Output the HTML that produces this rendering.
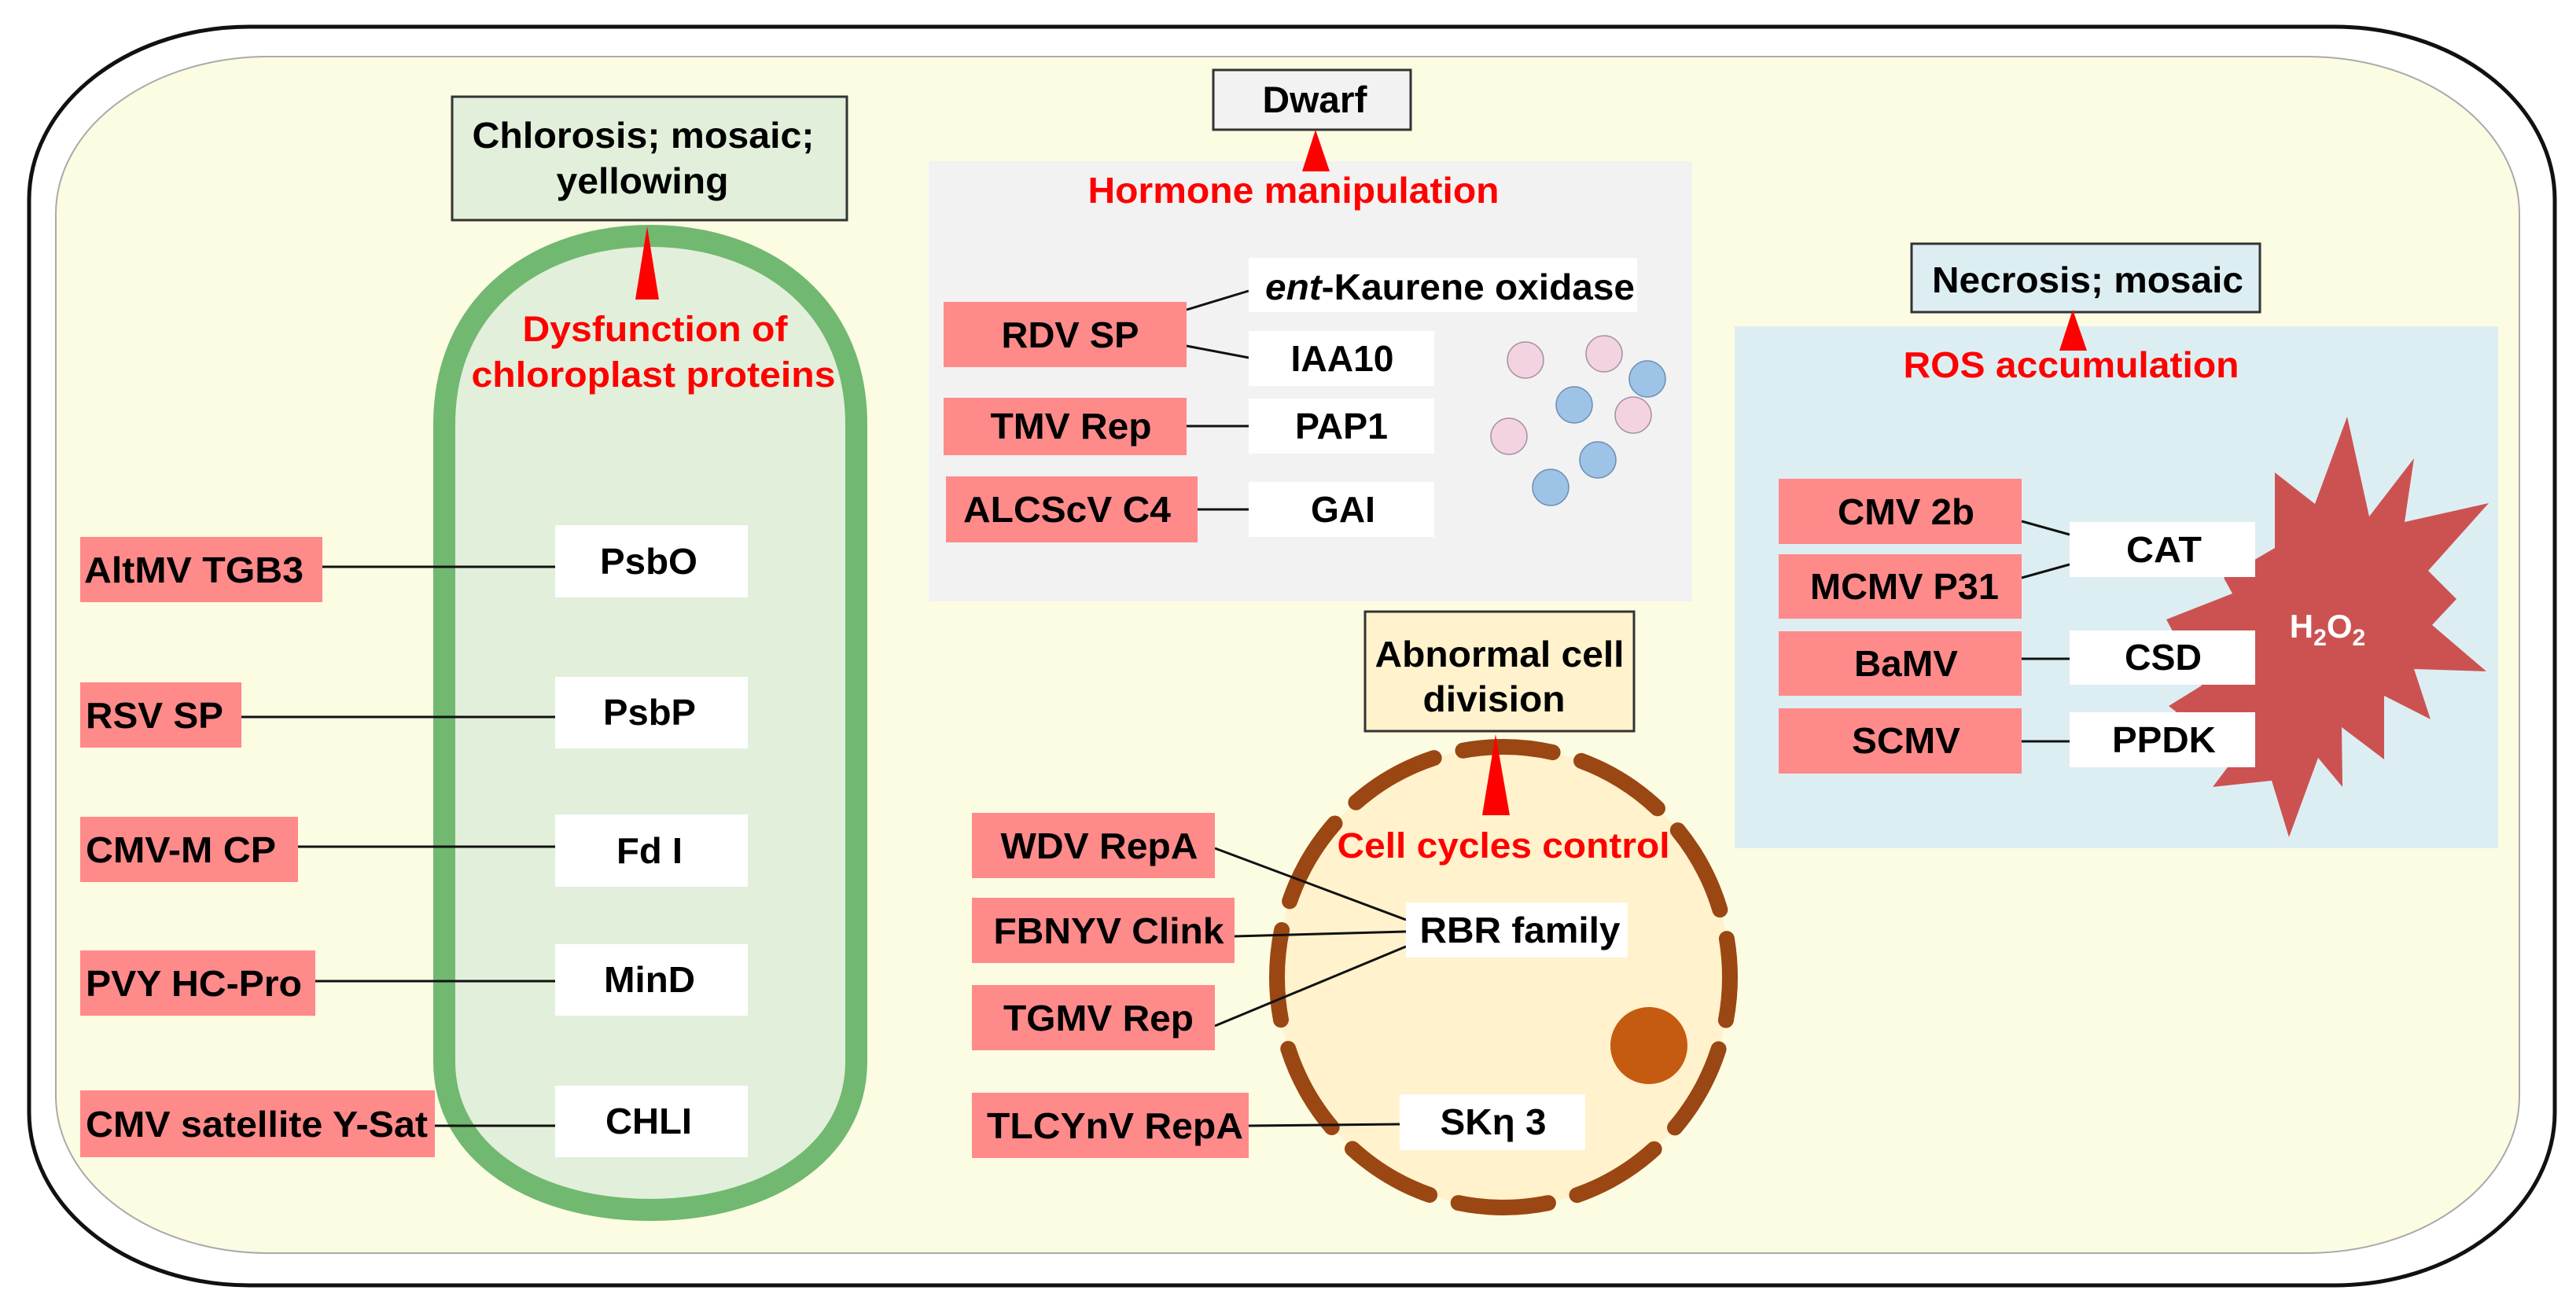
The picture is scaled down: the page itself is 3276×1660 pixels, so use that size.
<!DOCTYPE html>
<html><head><meta charset="utf-8"><style>
html,body{margin:0;padding:0;background:#fff;}
svg{display:block;}
text{font-family:"Liberation Sans",Arial,sans-serif;font-weight:bold;}
</style></head><body>
<svg width="3276" height="1660" viewBox="0 0 3276 1660" xmlns="http://www.w3.org/2000/svg">
<rect x="37" y="34" width="3212" height="1601" rx="280" ry="220" fill="#fff" stroke="#111" stroke-width="5"/>
<rect x="71" y="72" width="3133" height="1522" rx="270" ry="200" fill="#fcfce3" stroke="#aaa" stroke-width="2"/>

<!-- Chloroplast -->
<path d="M565,540 C565,380 690,300 827,300 C964,300 1089,380 1089,540 L1089,1350 C1089,1470 970,1539 827,1539 C684,1539 565,1470 565,1350 Z" fill="#e2efda" stroke="#71b870" stroke-width="28"/>
<rect x="575" y="123" width="502" height="157" fill="#e2efda" stroke="#333" stroke-width="3"/>
<text x="818" y="188" font-size="46" text-anchor="middle" textLength="435" lengthAdjust="spacingAndGlyphs">Chlorosis; mosaic;</text>
<text x="817" y="246" font-size="46" text-anchor="middle" textLength="219" lengthAdjust="spacingAndGlyphs">yellowing</text>
<polygon points="823,288 808,381 838,381" fill="#ff0000"/>
<text x="833" y="434" font-size="45" fill="#ff0000" text-anchor="middle" textLength="337" lengthAdjust="spacingAndGlyphs">Dysfunction of</text>
<text x="831" y="492" font-size="45" fill="#ff0000" text-anchor="middle" textLength="463" lengthAdjust="spacingAndGlyphs">chloroplast proteins</text>

<g stroke="#111" stroke-width="3">
<line x1="410" y1="721" x2="706" y2="721"/>
<line x1="307" y1="912" x2="706" y2="912"/>
<line x1="379" y1="1077" x2="706" y2="1077"/>
<line x1="401" y1="1248" x2="706" y2="1248"/>
<line x1="553" y1="1432" x2="706" y2="1432"/>
</g>
<g fill="#ff8a8a">
<rect x="102" y="683" width="308" height="83"/>
<rect x="102" y="868" width="205" height="83"/>
<rect x="102" y="1039" width="277" height="83"/>
<rect x="102" y="1209" width="299" height="83"/>
<rect x="102" y="1387" width="451" height="85"/>
</g>
<g fill="#fff">
<rect x="706" y="668" width="245" height="92"/>
<rect x="706" y="861" width="245" height="91"/>
<rect x="706" y="1036" width="245" height="92"/>
<rect x="706" y="1201" width="245" height="91"/>
<rect x="706" y="1381" width="245" height="91"/>
</g>
<g font-size="46">
<text x="107" y="741" textLength="279" lengthAdjust="spacingAndGlyphs">AltMV TGB3</text>
<text x="109" y="926" textLength="175" lengthAdjust="spacingAndGlyphs">RSV SP</text>
<text x="109" y="1097" textLength="242" lengthAdjust="spacingAndGlyphs">CMV-M CP</text>
<text x="109" y="1267" textLength="275" lengthAdjust="spacingAndGlyphs">PVY HC-Pro</text>
<text x="109" y="1446" textLength="435" lengthAdjust="spacingAndGlyphs">CMV satellite Y-Sat</text>
<text x="825" y="730" text-anchor="middle" textLength="124" lengthAdjust="spacingAndGlyphs">PsbO</text>
<text x="826" y="922" text-anchor="middle" textLength="118" lengthAdjust="spacingAndGlyphs">PsbP</text>
<text x="826" y="1098" text-anchor="middle" textLength="84" lengthAdjust="spacingAndGlyphs">Fd I</text>
<text x="826" y="1262" text-anchor="middle" textLength="116" lengthAdjust="spacingAndGlyphs">MinD</text>
<text x="825" y="1442" text-anchor="middle" textLength="110" lengthAdjust="spacingAndGlyphs">CHLI</text>
</g>

<!-- Hormone panel -->
<rect x="1181" y="205" width="971" height="560" fill="#f2f2f2"/>
<rect x="1543" y="89" width="251" height="76" fill="#f2f2f2" stroke="#333" stroke-width="3"/>
<text x="1672" y="143" font-size="47" text-anchor="middle" textLength="133" lengthAdjust="spacingAndGlyphs">Dwarf</text>
<polygon points="1673,165 1656,218 1691,218" fill="#ff0000"/>
<text x="1645" y="258" font-size="46" fill="#ff0000" text-anchor="middle" textLength="523" lengthAdjust="spacingAndGlyphs">Hormone manipulation</text>
<g stroke="#111" stroke-width="3">
<line x1="1509" y1="394" x2="1588" y2="370"/>
<line x1="1509" y1="440" x2="1588" y2="455"/>
<line x1="1509" y1="542" x2="1588" y2="542"/>
<line x1="1523" y1="648" x2="1588" y2="648"/>
</g>
<g fill="#ff8a8a">
<rect x="1200" y="384" width="309" height="83"/>
<rect x="1200" y="506" width="309" height="73"/>
<rect x="1203" y="606" width="320" height="84"/>
</g>
<g fill="#fff">
<rect x="1588" y="328" width="494" height="69"/>
<rect x="1588" y="421" width="236" height="70"/>
<rect x="1588" y="507" width="236" height="70"/>
<rect x="1588" y="613" width="236" height="70"/>
</g>
<g font-size="46">
<text x="1609" y="381" textLength="470" lengthAdjust="spacingAndGlyphs"><tspan font-style="italic">ent</tspan>-Kaurene oxidase</text>
<text x="1361" y="442" text-anchor="middle" textLength="175" lengthAdjust="spacingAndGlyphs">RDV SP</text>
<text x="1707" y="472" text-anchor="middle" textLength="131" lengthAdjust="spacingAndGlyphs">IAA10</text>
<text x="1362" y="558" text-anchor="middle" textLength="205" lengthAdjust="spacingAndGlyphs">TMV Rep</text>
<text x="1706" y="558" text-anchor="middle" textLength="118" lengthAdjust="spacingAndGlyphs">PAP1</text>
<text x="1357" y="664" text-anchor="middle" textLength="264" lengthAdjust="spacingAndGlyphs">ALCScV C4</text>
<text x="1708" y="664" text-anchor="middle" textLength="82" lengthAdjust="spacingAndGlyphs">GAI</text>
</g>
<g stroke-width="1.5">
<circle cx="1940" cy="458" r="23" fill="#f3d3e2" stroke="#a8909f"/>
<circle cx="2040" cy="450" r="23" fill="#f3d3e2" stroke="#a8909f"/>
<circle cx="2095" cy="482" r="23" fill="#9dc3e6" stroke="#6d8fb5"/>
<circle cx="2002" cy="515" r="23" fill="#9dc3e6" stroke="#6d8fb5"/>
<circle cx="2077" cy="528" r="23" fill="#f3d3e2" stroke="#a8909f"/>
<circle cx="1919" cy="555" r="23" fill="#f3d3e2" stroke="#a8909f"/>
<circle cx="2032" cy="585" r="23" fill="#9dc3e6" stroke="#6d8fb5"/>
<circle cx="1972" cy="620" r="23" fill="#9dc3e6" stroke="#6d8fb5"/>
</g>

<!-- ROS panel -->
<rect x="2206" y="415" width="971" height="664" fill="#ddeef3"/>
<rect x="2431" y="310" width="443" height="87" fill="#ddeef3" stroke="#333" stroke-width="3"/>
<text x="2655" y="372" font-size="46" text-anchor="middle" textLength="396" lengthAdjust="spacingAndGlyphs">Necrosis; mosaic</text>
<polygon points="2636,394 2619,446 2654,446" fill="#ff0000"/>
<text x="2634" y="480" font-size="46" fill="#ff0000" text-anchor="middle" textLength="427" lengthAdjust="spacingAndGlyphs">ROS accumulation</text>
<polygon fill="#cc5252" points="2985,530 3013,657 3070,583 3058,664 3165,640 3088,726 3124,762 3093,795 3162,854 3070,851 3091,915 3032,885 3032,966 2978,925 2979,1001 2948,964 2911,1065 2889,993 2814,1001 2842,964 2758,898 2800,872 2755,788 2839,755 2828,735 2893,697 2893,601 2944,641"/>
<text x="2960" y="811" font-size="42" fill="#fff" text-anchor="middle">H<tspan font-size="30" dy="10">2</tspan><tspan dy="-10">O</tspan><tspan font-size="30" dy="10">2</tspan></text>
<g stroke="#111" stroke-width="3">
<line x1="2571" y1="663" x2="2632" y2="680"/>
<line x1="2571" y1="735" x2="2632" y2="718"/>
<line x1="2571" y1="838" x2="2632" y2="838"/>
<line x1="2571" y1="943" x2="2632" y2="943"/>
</g>
<g fill="#ff8a8a">
<rect x="2262" y="609" width="309" height="83"/>
<rect x="2262" y="705" width="309" height="82"/>
<rect x="2262" y="803" width="309" height="82"/>
<rect x="2262" y="901" width="309" height="83"/>
</g>
<g fill="#fff">
<rect x="2632" y="664" width="236" height="70"/>
<rect x="2632" y="802" width="236" height="69"/>
<rect x="2632" y="906" width="236" height="70"/>
</g>
<g font-size="46">
<text x="2424" y="667" text-anchor="middle" textLength="174" lengthAdjust="spacingAndGlyphs">CMV 2b</text>
<text x="2422" y="762" text-anchor="middle" textLength="240" lengthAdjust="spacingAndGlyphs">MCMV P31</text>
<text x="2424" y="860" text-anchor="middle" textLength="132" lengthAdjust="spacingAndGlyphs">BaMV</text>
<text x="2424" y="958" text-anchor="middle" textLength="138" lengthAdjust="spacingAndGlyphs">SCMV</text>
<text x="2752" y="715" text-anchor="middle" textLength="96" lengthAdjust="spacingAndGlyphs">CAT</text>
<text x="2751" y="852" text-anchor="middle" textLength="98" lengthAdjust="spacingAndGlyphs">CSD</text>
<text x="2752" y="957" text-anchor="middle" textLength="132" lengthAdjust="spacingAndGlyphs">PPDK</text>
</g>

<!-- Cell cycle -->
<ellipse cx="1912" cy="1243" rx="288" ry="293" fill="#fff2cc"/>
<ellipse cx="1912" cy="1243" rx="288" ry="293" fill="none" stroke="#9a4713" stroke-width="20" stroke-linecap="round" stroke-dasharray="115 38" stroke-dashoffset="60"/>
<ellipse cx="2097" cy="1330" rx="49" ry="49" fill="#c55a11"/>
<rect x="1736" y="778" width="342" height="152" fill="#fff2cc" stroke="#333" stroke-width="3"/>
<text x="1907" y="848" font-size="46" text-anchor="middle" textLength="317" lengthAdjust="spacingAndGlyphs">Abnormal cell</text>
<text x="1900" y="905" font-size="46" text-anchor="middle" textLength="181" lengthAdjust="spacingAndGlyphs">division</text>
<polygon points="1902,934 1885,1037 1920,1037" fill="#ff0000"/>
<text x="1912" y="1091" font-size="45" fill="#ff0000" text-anchor="middle" textLength="423" lengthAdjust="spacingAndGlyphs">Cell cycles control</text>
<g stroke="#111" stroke-width="3">
<line x1="1545" y1="1079" x2="1788" y2="1170"/>
<line x1="1570" y1="1191" x2="1788" y2="1185"/>
<line x1="1545" y1="1305" x2="1788" y2="1204"/>
<line x1="1588" y1="1432" x2="1780" y2="1430"/>
</g>
<g fill="#ff8a8a">
<rect x="1236" y="1034" width="309" height="83"/>
<rect x="1236" y="1142" width="334" height="83"/>
<rect x="1236" y="1253" width="309" height="83"/>
<rect x="1236" y="1390" width="352" height="83"/>
</g>
<g fill="#fff">
<rect x="1788" y="1148" width="282" height="70"/>
<rect x="1780" y="1392" width="236" height="71"/>
</g>
<g font-size="46">
<text x="1398" y="1092" text-anchor="middle" textLength="251" lengthAdjust="spacingAndGlyphs">WDV RepA</text>
<text x="1410" y="1200" text-anchor="middle" textLength="293" lengthAdjust="spacingAndGlyphs">FBNYV Clink</text>
<text x="1397" y="1311" text-anchor="middle" textLength="242" lengthAdjust="spacingAndGlyphs">TGMV Rep</text>
<text x="1418" y="1448" text-anchor="middle" textLength="326" lengthAdjust="spacingAndGlyphs">TLCYnV RepA</text>
<text x="1933" y="1199" text-anchor="middle" textLength="255" lengthAdjust="spacingAndGlyphs">RBR family</text>
<text x="1899" y="1443" text-anchor="middle" textLength="135" lengthAdjust="spacingAndGlyphs">SKη 3</text>
</g>
</svg>
</body></html>
